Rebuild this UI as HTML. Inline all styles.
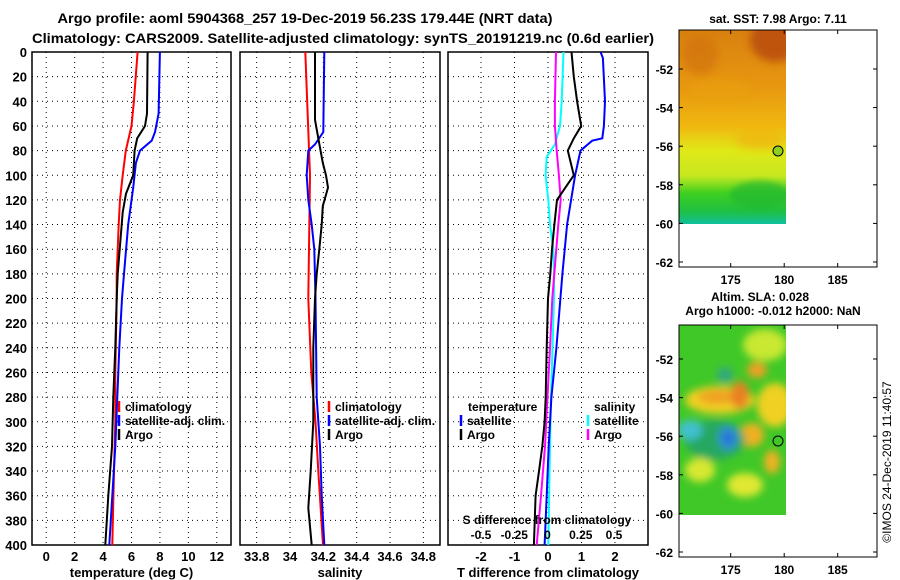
<!DOCTYPE html>
<html><head><meta charset="utf-8"><style>
body{margin:0;background:#fff;}
svg{display:block;font-family:"Liberation Sans",sans-serif;font-weight:bold;}
</style></head><body>
<svg id="fig" width="900" height="580" viewBox="0 0 900 580" xmlns="http://www.w3.org/2000/svg">
<defs>
<filter id="blur6" x="-50%" y="-50%" width="200%" height="200%"><feGaussianBlur stdDeviation="4"/></filter>
<filter id="blur3" x="-50%" y="-50%" width="200%" height="200%"><feGaussianBlur stdDeviation="3"/></filter>
<linearGradient id="sstGrad" x1="0" y1="0" x2="0" y2="1">
<stop offset="0" stop-color="#d88010"/><stop offset="0.3" stop-color="#e89810"/><stop offset="0.5" stop-color="#f0b810"/>
<stop offset="0.62" stop-color="#e0e818"/><stop offset="0.75" stop-color="#c8e820"/><stop offset="0.84" stop-color="#40d020"/>
<stop offset="0.93" stop-color="#20c040"/><stop offset="0.97" stop-color="#18c070"/><stop offset="1" stop-color="#10c0a0"/>
</linearGradient>
<clipPath id="sstClip"><rect x="679" y="30" width="107" height="194"/></clipPath>
<clipPath id="slaClip"><rect x="679" y="325" width="107" height="190"/></clipPath>
</defs>
<text x="305" y="23" font-size="14" text-anchor="middle" textLength="495" lengthAdjust="spacingAndGlyphs">Argo profile: aoml 5904368_257 19-Dec-2019 56.23S 179.44E (NRT data)</text>
<text x="343" y="43" font-size="14" text-anchor="middle" textLength="622" lengthAdjust="spacingAndGlyphs">Climatology: CARS2009. Satellite-adjusted climatology: synTS_20191219.nc (0.6d earlier)</text>
<g id="plots"></g>
<!-- SST map -->
<g>
<text x="778" y="23" font-size="12" text-anchor="middle">sat. SST: 7.98 Argo: 7.11</text>
<g clip-path="url(#sstClip)">
<rect x="679" y="30" width="107" height="194" fill="url(#sstGrad)"/>
<ellipse cx="775" cy="40" rx="25" ry="22" fill="#b84a08" opacity="0.8" filter="url(#blur6)"/>
<ellipse cx="700" cy="55" rx="18" ry="20" fill="#d07010" opacity="0.6" filter="url(#blur6)"/>
<ellipse cx="720" cy="90" rx="30" ry="10" fill="#e8a010" opacity="0.6" filter="url(#blur6)"/>
<ellipse cx="760" cy="140" rx="25" ry="10" fill="#f0b010" opacity="0.6" filter="url(#blur6)"/>
<ellipse cx="760" cy="195" rx="30" ry="14" fill="#20b830" opacity="0.7" filter="url(#blur3)"/>
</g>
<rect x="679" y="30" width="198" height="237" fill="none" stroke="#000"/>
<circle cx="778" cy="151" r="5" fill="#90d020" stroke="#000"/>
<g id="sstAxes"></g>
</g>
<!-- SLA map -->
<g>
<text x="760" y="301" font-size="12" text-anchor="middle">Altim. SLA: 0.028</text>
<text x="773" y="315" font-size="12" text-anchor="middle">Argo h1000: -0.012 h2000: NaN</text>
<g clip-path="url(#slaClip)">
<rect x="679" y="325" width="107" height="190" fill="#40c828"/>
<g filter="url(#blur6)">
<ellipse cx="765" cy="345" rx="22" ry="16" fill="#c8e830"/>
<ellipse cx="757" cy="370" rx="10" ry="8" fill="#f0a020"/>
<ellipse cx="720" cy="400" rx="35" ry="14" fill="#f0d020"/>
<ellipse cx="718" cy="397" rx="20" ry="7" fill="#f0a020"/>
<ellipse cx="740" cy="395" rx="9" ry="14" fill="#e88020"/>
<ellipse cx="775" cy="405" rx="18" ry="22" fill="#f0d020"/>
<ellipse cx="752" cy="435" rx="12" ry="12" fill="#f0b020"/>
<ellipse cx="715" cy="440" rx="30" ry="20" fill="#28a860"/>
<ellipse cx="690" cy="430" rx="12" ry="10" fill="#40c0d0"/>
<ellipse cx="728" cy="438" rx="10" ry="12" fill="#3090d0"/>
<ellipse cx="728" cy="438" rx="4" ry="6" fill="#2060e0"/>
<ellipse cx="725" cy="375" rx="8" ry="8" fill="#30a880"/>
<ellipse cx="772" cy="462" rx="8" ry="12" fill="#f0b020"/>
<ellipse cx="700" cy="470" rx="15" ry="12" fill="#d8e830"/>
<ellipse cx="745" cy="485" rx="18" ry="12" fill="#e0e830"/>
</g>
</g>
<rect x="679" y="325" width="198" height="232" fill="none" stroke="#000"/>
<circle cx="778" cy="441" r="5" fill="none" stroke="#000"/>
<g id="slaAxes"></g>
</g>
<text transform="translate(891,462) rotate(-90)" font-size="12" font-weight="normal" text-anchor="middle">©IMOS 24-Dec-2019 11:40:57</text>
</svg>
<script>
// ---- data (depth in dbar) ----
const tempClimDepth = [0,40,60,80,100,120,140,180,200,260,300,340,400];
const tempClimVal   = [6.43,6.17,6.0,5.6,5.38,5.19,5.1,4.96,4.96,4.86,4.86,4.77,4.65];
const tempArgoDepth = [0,50,60,70,80,100,115,130,150,180,200,240,280,320,360,400];
const tempArgoVal   = [7.13,7.09,6.95,6.4,6.22,6.12,5.61,5.38,5.24,5.03,4.96,4.86,4.72,4.63,4.37,4.16];
const tempSatDepth  = [0,50,65,72,80,90,110,140,180,200,240,280,320,360,400];
const tempSatVal    = [8.0,7.91,7.65,7.42,6.6,6.31,6.12,5.77,5.47,5.33,5.14,5.0,4.86,4.65,4.44];
const salClimDepth  = [0,100,200,260,300,340,400];
const salClimVal    = [34.092,34.12,34.11,34.128,34.153,34.17,34.198];
const salArgoDepth  = [0,55,70,90,100,110,125,140,160,180,200,240,300,340,370,400];
const salArgoVal    = [34.15,34.15,34.17,34.197,34.216,34.228,34.197,34.19,34.176,34.16,34.15,34.14,34.14,34.124,34.11,34.13];
const salSatDepth   = [0,65,75,80,100,120,140,160,200,280,320,360,400];
const salSatVal     = [34.206,34.2,34.15,34.11,34.1,34.11,34.13,34.146,34.153,34.16,34.18,34.19,34.206];
const dTSatDepth    = [0,5,40,60,70,72,80,100,140,180,200,240,280,320,360,400];
const dTSatVal      = [1.57,1.64,1.7,1.67,1.62,1.32,0.97,0.81,0.57,0.43,0.37,0.25,0.1,0.02,-0.04,-0.1];
const dTArgoDepth   = [0,20,40,60,70,80,100,110,120,140,160,180,200,240,280,300,320,340,360,400];
const dTArgoVal     = [0.7,0.77,0.87,0.99,0.77,0.59,0.77,0.52,0.27,0.19,0.12,0.07,0,-0.04,-0.07,-0.1,-0.17,-0.27,-0.37,-0.42];
const dSSatDepth    = [0,40,60,75,85,100,120,140,160,180,200,280,320,400];
const dSSatVal      = [0.12,0.107,0.094,0.056,-0.006,-0.014,0.006,0.019,0.044,0.05,0.049,0.026,0.019,0.006];
const dSArgoDepth   = [0,40,60,80,100,120,140,180,200,240,280,320,360,400];
const dSArgoVal     = [0.064,0.056,0.056,0.069,0.086,0.099,0.081,0.051,0.036,0.019,0,-0.019,-0.049,-0.081];
const depthTicks    = [0,20,40,60,80,100,120,140,160,180,200,220,240,260,280,300,320,340,360,380,400];
const tempTicks     = [0,2,4,6,8,10,12];
const salTicks      = [33.8,34,34.2,34.4,34.6,34.8];
const dTTicks       = [-2,-1,0,1,2];
const dSTicks       = [-0.5,-0.25,0,0.25,0.5];
const latTicks      = [-52,-54,-56,-58,-60,-62];
const lonTicks      = [175,180,185];

const NS='http://www.w3.org/2000/svg';
function mk(tag, attrs, parent){const e=document.createElementNS(NS,tag);for(const k in attrs)e.setAttribute(k,attrs[k]);parent.appendChild(e);return e;}
const Y0=52, Y1=545;
const yD = d => Y0 + (d/400)*(Y1-Y0);
const plots=document.getElementById('plots');

function panel(name,x0,x1,vmin,vmax,ticks,label,showY){
  const g=mk('g',{},plots);
  
  
  const xs=v=>x0+(v-vmin)/(vmax-vmin)*(x1-x0);
  depthTicks.forEach(d=>{
    if(d>0&&d<400){const l=mk('line',{x1:x0,x2:x1,y1:yD(d),y2:yD(d),stroke:'#000','stroke-dasharray':'1,4'},g);
      
      }
    if(showY){const t=mk('text',{x:x0-5,y:yD(d)+5,'font-size':13,'text-anchor':'end'},g);t.textContent=d;
      
      }
  });
  ticks.forEach(v=>{
    const l=mk('line',{x1:xs(v),x2:xs(v),y1:Y0,y2:Y1,stroke:'#000','stroke-dasharray':'1,4'},g);
    
    
    if(label){const t=mk('text',{x:xs(v),y:561,'font-size':13,'text-anchor':'middle'},g);t.textContent=v;
      
      }
  });
  const r=mk('rect',{x:x0,y:Y0,width:x1-x0,height:Y1-Y0,fill:'none',stroke:'#000','stroke-width':1.5},g);
  
  
  if(label){const t=mk('text',{x:(x0+x1)/2,y:577,'font-size':13,'text-anchor':'middle'},g);t.textContent=label;
    
    }
  return {g,xs};
}
function line(p,depths,vals,color,w,name,xs){
  const f=xs||p.xs;
  const pts=depths.map((d,i)=>f(vals[i]).toFixed(1)+','+yD(d).toFixed(1)).join(' ');
  const l=mk('polyline',{points:pts,fill:'none',stroke:color,'stroke-width':w},p.g);
  
  
}
function legend(p,x,y,color,txt,name){
  const m=mk('line',{x1:x,x2:x,y1:y-6,y2:y+5,stroke:color,'stroke-width':2.5},p.g);
  
  
  if(txt){const t=mk('text',{x:x+6,y:y+4,'font-size':12},p.g);t.textContent=txt;
    
    }
}

const p1=panel('temperature-panel',32,231,-1,13,tempTicks,'temperature (deg C)',true);
line(p1,tempClimDepth,tempClimVal,'#f00',2,'temp-climatology-line');
line(p1,tempSatDepth,tempSatVal,'#00f',2,'temp-satellite-line');
line(p1,tempArgoDepth,tempArgoVal,'#000',2,'temp-argo-line');
legend(p1,119,407,'#f00','climatology','legend-climatology');
legend(p1,119,421,'#00f','satellite-adj. clim.','legend-satellite');
legend(p1,119,435,'#000','Argo','legend-argo');

const p2=panel('salinity-panel',240,440,33.7,34.9,salTicks,'salinity',false);
line(p2,salClimDepth,salClimVal,'#f00',2,'sal-climatology-line');
line(p2,salSatDepth,salSatVal,'#00f',2,'sal-satellite-line');
line(p2,salArgoDepth,salArgoVal,'#000',2,'sal-argo-line');
legend(p2,329,407,'#f00','climatology','legend-sal-climatology');
legend(p2,329,421,'#00f','satellite-adj. clim.','legend-sal-satellite');
legend(p2,329,435,'#000','Argo','legend-sal-argo');

const p3=panel('difference-panel',448,648,-2.985,2.985,dTTicks,'T difference from climatology',false);
const xsS=v=>547.5+v*133;
line(p3,dSSatDepth,dSSatVal,'#0ff',2,'sal-diff-satellite-line',xsS);
line(p3,dSArgoDepth,dSArgoVal,'#f0f',2,'sal-diff-argo-line',xsS);
line(p3,dTSatDepth,dTSatVal,'#00f',2,'temp-diff-satellite-line');
line(p3,dTArgoDepth,dTArgoVal,'#000',2,'temp-diff-argo-line');
{const t=mk('text',{x:468,y:411,'font-size':12},p3.g);t.textContent='temperature';
 
 
 const s=mk('text',{x:594,y:411,'font-size':12},p3.g);s.textContent='salinity';
 
 }
legend(p3,461,421,'#00f','satellite','legend-dt-satellite');
legend(p3,461,435,'#000','Argo','legend-dt-argo');
legend(p3,588,421,'#0ff','satellite','legend-ds-satellite');
legend(p3,588,435,'#f0f','Argo','legend-ds-argo');
{const t=mk('text',{x:547,y:524,'font-size':12,'text-anchor':'middle'},p3.g);t.textContent='S difference from climatology';
 
 
 dSTicks.forEach(v=>{const s=mk('text',{x:xsS(v),y:539,'font-size':12,'text-anchor':'middle'},p3.g);s.textContent=v;
  
  });}

function mapAxes(id,x0,x1,yTop,yBot,latY,lonLabelY){
  const g=document.getElementById(id);
  const ys=lat=>latY+(-52-lat)*19.3;
  const xs=lon=>730.7+(lon-175)*10.7;
  latTicks.forEach(l=>{const y=ys(l);
    mk('line',{x1:x0,x2:x0+4,y1:y,y2:y,stroke:'#000'},g);mk('line',{x1:x1-4,x2:x1,y1:y,y2:y,stroke:'#000'},g);
    const t=mk('text',{x:673,y:y+5,'font-size':12,'text-anchor':'end'},g);t.textContent=l;
    
    });
  lonTicks.forEach(l=>{const x=xs(l);
    mk('line',{x1:x,x2:x,y1:yBot,y2:yBot-4,stroke:'#000'},g);mk('line',{x1:x,x2:x,y1:yTop,y2:yTop+4,stroke:'#000'},g);
    const t=mk('text',{x:x,y:lonLabelY,'font-size':12,'text-anchor':'middle'},g);t.textContent=l;
    
    });
}
mapAxes('sstAxes',679,877,30,267,69,284);
mapAxes('slaAxes',679,877,325,557,359,574);
</script>
</body></html>
